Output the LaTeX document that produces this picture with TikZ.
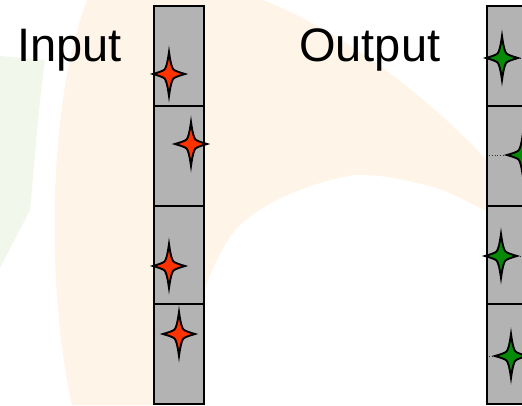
\documentclass[tikz,border=0pt]{standalone}
\usepackage{fontspec}
\setmainfont{Liberation Sans}
\definecolor{bgorange}{HTML}{FEF5E8}
\definecolor{bggreen}{HTML}{F1F7EA}
\definecolor{colgray}{HTML}{B3B3B3}
\definecolor{starred}{HTML}{FF3300}
\definecolor{stargreen}{HTML}{078A07}
\newcommand\fourstar[3]{%
  \begin{scope}[shift={(#1,#2)}]
    \filldraw[starline,fill=#3] (0,-22) .. controls (1.5,-11) and (3,-6) .. (4.5,-4.5)
      .. controls (6,-3) and (11,-1.5) .. (16,0)
      .. controls (11,1.5) and (6,3) .. (4.5,4.5)
      .. controls (3,6) and (1.5,11) .. (0,22)
      .. controls (-1.5,11) and (-3,6) .. (-4.5,4.5)
      .. controls (-6,3) and (-11,1.5) .. (-16,0)
      .. controls (-11,-1.5) and (-6,-3) .. (-4.5,-4.5)
      .. controls (-3,-6) and (-1.5,-11) .. cycle;
  \end{scope}}
\tikzset{
  starline/.style={draw=black,line width=1.9pt},
  column/.style={draw=black,line width=1.4pt,fill=colgray},
  divider/.style={draw=black,line width=1.4pt},
  label/.style={anchor=base west,inner sep=0pt,font=\fontsize{47}{52}\selectfont},
  dots/.style={draw=black!80,line width=0.8pt,dotted}
}
\begin{document}
\begin{tikzpicture}[x=1pt,y=-1pt]
\useasboundingbox (0,0) rectangle (522,405);
\begin{scope}
\clip (0,0) rectangle (522,405);
% background watermark
\fill[bggreen] (0,56) -- (45,60) .. controls (38,110) and (34,170) .. (30,210) -- (0,268) -- cycle;
\fill[bgorange] (72,405) .. controls (48,300) and (45,110) .. (87,0) -- (263,0)
  .. controls (340,30) and (440,100) .. (522,200) -- (522,228)
  -- plot[smooth] coordinates {(522,228) (490,213) (433,187) (357,175) (283,197) (233,233) (200,303) (182,405)} -- cycle;
% labels
\node[label] (lin) at (17,61) {Input};
\node[label] (lout) at (299,61) {Output};
% input column
\draw[column] (154,6) rectangle (204,404);
\draw[divider] (154,106) -- (204,106);
\draw[divider] (154,206) -- (204,206);
\draw[divider] (154,304) -- (204,304);
\fourstar{169}{74}{starred}
\fourstar{191}{144}{starred}
\fourstar{169}{266}{starred}
\fourstar{179}{334}{starred}
% output column
\draw[column] (487,6) rectangle (545,404);
\draw[divider] (487,106) -- (545,106);
\draw[divider] (487,206) -- (545,206);
\draw[divider] (487,304) -- (545,304);
\coordinate (d1a) at (517,58); \coordinate (d1b) at (524,58);
\coordinate (d2a) at (489,155); \coordinate (d2b) at (507,155);
\coordinate (d3a) at (517,256); \coordinate (d3b) at (524,256);
\coordinate (d4a) at (489,356); \coordinate (d4b) at (496,356);
\draw[dots] (d1a) -- (d1b);
\draw[dots] (d2a) -- (d2b);
\draw[dots] (d3a) -- (d3b);
\draw[dots] (d4a) -- (d4b);
\fourstar{502}{58}{stargreen}
\fourstar{523}{155}{stargreen}
\fourstar{501}{256}{stargreen}
\fourstar{511}{356}{stargreen}
\end{scope}
\end{tikzpicture}
\end{document}
